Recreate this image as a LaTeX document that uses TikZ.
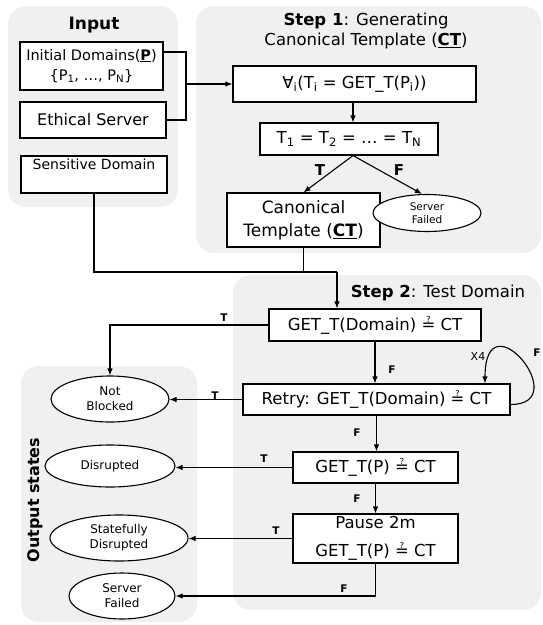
\documentclass[tikz,border=0pt]{standalone}
\usepackage{fontspec}
\setmainfont{DejaVu Sans}
\usetikzlibrary{positioning, shapes.geometric, arrows.meta}
\definecolor{panelgray}{HTML}{F0F0F0}
\newcommand{\qeq}{≟}
\tikzset{
  panel/.style={fill=panelgray, rounded corners=18pt},
  procbox/.style={draw, fill=white, rectangle, inner sep=0pt, align=center, font=\fontsize{16.5}{19}\selectfont},
  outstate/.style={draw, fill=white, ellipse, inner sep=0pt, align=center, font=\fontsize{12}{15}\selectfont},
  title/.style={align=center, font=\fontsize{16.5}{20}\selectfont},
  flow/.style={-{Latex[length=7pt,width=5.5pt]}},
  tf/.style={font=\bfseries\fontsize{10.5}{12}\selectfont},
}

\begin{document}
\begin{tikzpicture}[x=1pt, y=-1pt, line width=1.1pt]
\useasboundingbox (0,0) rectangle (543,625);

\fill[panel] (8,6) rectangle (178,207);
\fill[panel] (196,6) rectangle (541,253);
\fill[panel] (233,275) rectangle (541,610);
\fill[panel] (21,366) rectangle (197,622);

\node[title, font=\bfseries\fontsize{17}{20}\selectfont] at (94,25) (inputtitle) {Input};
\node[procbox, minimum width=143pt, minimum height=48pt, font=\fontsize{14.5}{20}\selectfont] at (91.5,66) (initial) {Initial Domains(\underline{\textbf{P}})\\\{P\textsubscript{1}, …, P\textsubscript{N}\}};
\node[procbox, minimum width=146pt, minimum height=36pt, font=\fontsize{16}{19}\selectfont] at (93,120) (ethical) {Ethical Server};
\node[procbox, minimum width=146pt, minimum height=37pt, font=\fontsize{14}{16}\selectfont] at (94,174.5) (sensitive) {Sensitive Domain\\\strut};

\node[title, font=\fontsize{16.5}{19.5}\selectfont] at (366,31) (step1title) {\textbf{Step 1}: Generating\\Canonical Template (\underline{\textbf{CT}})};
\node[procbox, minimum width=243pt, minimum height=36pt] at (354.5,84) (forall) {∀\textsubscript{i}(T\textsubscript{i} = GET\_T(P\textsubscript{i}))};
\node[procbox, minimum width=178pt, minimum height=32pt] at (349,139) (equal) {T\textsubscript{1} = T\textsubscript{2} = … = T\textsubscript{N}};
\node[procbox, minimum width=153pt, minimum height=54pt, font=\fontsize{17}{23}\selectfont] at (303.5,220) (canonical) {Canonical\\Template (\underline{\textbf{CT}})};
\node[outstate, minimum width=108pt, minimum height=37pt, font=\fontsize{10.5}{13}\selectfont] at (427,213) (failed1) {Server\\Failed};
\node[tf, font=\bfseries\fontsize{15}{18}\selectfont] at (320,170) (ttrue1) {T};
\node[tf, font=\bfseries\fontsize{15}{18}\selectfont] at (399,170) (ffalse1) {F};

\coordinate (join) at (186,84);
\coordinate (merge) at (337,272);
\draw ([yshift=14pt]initial.east) -| (join) |- (ethical.east);
\draw[flow] (join) -- (forall.west);
\draw[flow] ([xshift=-1.5pt]forall.south) -- ([xshift=4pt]equal.north);
\draw[flow] ([xshift=4pt]equal.south) -- (canonical.north);
\draw[flow] ([xshift=4pt]equal.south) -- ([xshift=-5pt]failed1.north);
\draw (sensitive.south) |- (merge);
\draw (canonical.south) -- (canonical.south |- merge);

\node[title] at (438,293) (step2title) {\textbf{Step 2}: Test Domain};
\node[procbox, minimum width=212pt, minimum height=32pt] at (375,325) (domain) {GET\_T(Domain) \qeq{} CT};
\node[procbox, minimum width=267pt, minimum height=31pt] at (376.5,399.5) (retry) {Retry: GET\_T(Domain) \qeq{} CT};
\node[procbox, minimum width=165pt, minimum height=31pt] at (375.5,467.5) (probe) {GET\_T(P) \qeq{} CT};
\node[procbox, minimum width=165pt, minimum height=49pt, font=\fontsize{16.5}{20}\selectfont] at (375.5,538.5) (pause) {Pause 2m\\[8pt]GET\_T(P) \qeq{} CT};

\node[rotate=90, font=\bfseries\fontsize{16}{19}\selectfont] at (35,500) (outtitle) {Output states};
\node[outstate, minimum width=118pt, minimum height=46pt] at (110,399) (notblocked) {Not\\Blocked};
\node[outstate, minimum width=130pt, minimum height=42pt] at (110,466) (disrupted) {Disrupted};
\node[outstate, minimum width=138pt, minimum height=46pt] at (119,538) (stateful) {Statefully\\Disrupted};
\node[outstate, minimum width=106pt, minimum height=46pt] at (122,596) (failed2) {Server\\Failed};

\draw[flow] (merge) -- (merge |- domain.north);
\draw[flow] (domain.west) -| (notblocked.north);
\draw[flow] (domain.south) -- (domain.south |- retry.north);
\draw[flow] (retry.west) -- (retry.west -| notblocked.east);
\draw[flow] ([yshift=-5pt]retry.east) .. controls +(65,0) and +(0,-89) .. ([xshift=108.5pt]retry.north);
\draw[flow] (retry.south) -- (retry.south |- probe.north);
\draw[flow] (probe.west) -- (probe.west -| disrupted.east);
\draw[flow] (probe.south) -- (pause.north);
\draw[flow] (pause.west) -- (pause.west -| stateful.east);
\draw[flow] (pause.south) |- (failed2.east);

\node[tf] at (224,318) (ttrue2) {T};
\node[tf] at (392,370) (ffalse2) {F};
\node[font=\fontsize{11}{13}\selectfont] at (478,356) (times) {X4};
\node[tf] at (537,353) (ffalse3) {F};
\node[tf] at (215,396) (ttrue3) {T};
\node[tf] at (357,433) (ffalse4) {F};
\node[tf] at (264,459) (ttrue4) {T};
\node[tf] at (357,499) (ffalse5) {F};
\node[tf] at (276,531) (ttrue5) {T};
\node[tf] at (344,589) (ffalse6) {F};
\end{tikzpicture}
\end{document}
